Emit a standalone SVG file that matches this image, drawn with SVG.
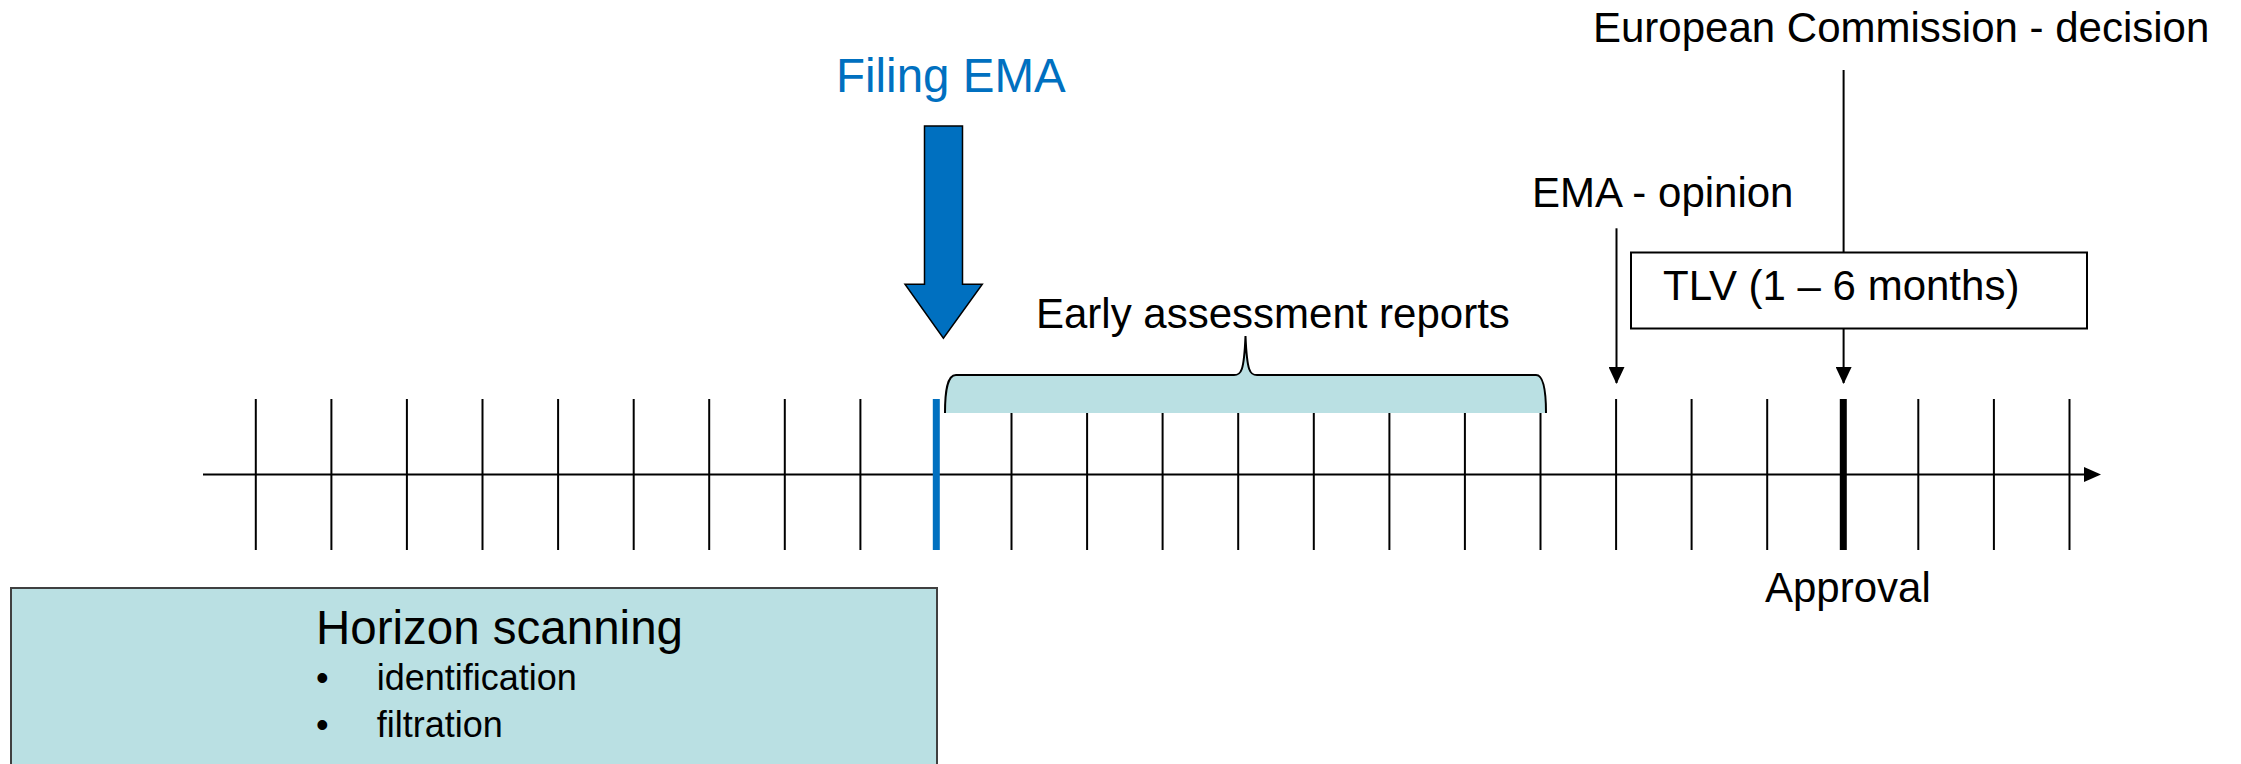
<svg xmlns="http://www.w3.org/2000/svg" width="2241" height="764" viewBox="0 0 2241 764">
<defs>
<style>
.t{font-family:"Liberation Sans",Arial,sans-serif;fill:#000}
.tick{stroke:#000;stroke-width:2}
.conn{stroke:#000;stroke-width:2;fill:none}
</style>
<marker id="ah" markerWidth="17" markerHeight="16" refX="16" refY="8" orient="auto" markerUnits="userSpaceOnUse" viewBox="0 0 17 16">
<path d="M0,0 L17,8 L0,16 Z" fill="#000"/>
</marker>
</defs>
<rect width="2241" height="764" fill="#fff"/>

<g id="timeline">
<line x1="203" y1="474.5" x2="2086" y2="474.5" stroke="#000" stroke-width="2.2"/>
<polygon points="2084,467 2101,474.5 2084,482" fill="#000"/>
<g class="tick">
<line x1="255.8" y1="399" x2="255.8" y2="550"/>
<line x1="331.4" y1="399" x2="331.4" y2="550"/>
<line x1="406.9" y1="399" x2="406.9" y2="550"/>
<line x1="482.5" y1="399" x2="482.5" y2="550"/>
<line x1="558.1" y1="399" x2="558.1" y2="550"/>
<line x1="633.7" y1="399" x2="633.7" y2="550"/>
<line x1="709.2" y1="399" x2="709.2" y2="550"/>
<line x1="784.8" y1="399" x2="784.8" y2="550"/>
<line x1="860.4" y1="399" x2="860.4" y2="550"/>
<line x1="1011.5" y1="399" x2="1011.5" y2="550"/>
<line x1="1087.1" y1="399" x2="1087.1" y2="550"/>
<line x1="1162.6" y1="399" x2="1162.6" y2="550"/>
<line x1="1238.2" y1="399" x2="1238.2" y2="550"/>
<line x1="1313.8" y1="399" x2="1313.8" y2="550"/>
<line x1="1389.4" y1="399" x2="1389.4" y2="550"/>
<line x1="1464.9" y1="399" x2="1464.9" y2="550"/>
<line x1="1540.5" y1="399" x2="1540.5" y2="550"/>
<line x1="1616.1" y1="399" x2="1616.1" y2="550"/>
<line x1="1691.6" y1="399" x2="1691.6" y2="550"/>
<line x1="1767.2" y1="399" x2="1767.2" y2="550"/>
<line x1="1918.3" y1="399" x2="1918.3" y2="550"/>
<line x1="1993.9" y1="399" x2="1993.9" y2="550"/>
<line x1="2069.5" y1="399" x2="2069.5" y2="550"/>
</g>
<line x1="936.3" y1="399" x2="936.3" y2="550" stroke="#0070C0" stroke-width="7"/>
<line x1="1843.3" y1="399" x2="1843.3" y2="550" stroke="#000" stroke-width="7"/>
</g>

<g id="early-assessment">
<path d="M945,413 C945,392 947,375 956,375 L1234,375 C1241,375 1244,372 1245.5,336 C1247,372 1250,375 1257,375 L1536,375 C1544,375 1546,392 1546,413" fill="#BAE0E3" stroke="#000" stroke-width="2"/>
<text class="t" x="1036" y="328.3" font-size="42">Early assessment reports</text>
</g>

<g id="filing-ema">
<text x="836" y="91.7" font-size="47.5" font-family="Liberation Sans, Arial, sans-serif" fill="#0070C0">Filing EMA</text>
<polygon points="924.5,126 962.5,126 962.5,284.3 982.3,284.3 943.4,338.3 905,284.3 924.5,284.3" fill="#0070C0" stroke="#000" stroke-width="1.5"/>
</g>

<g id="ema-opinion">
<text class="t" x="1532" y="206.7" font-size="42">EMA - opinion</text>
</g>

<g id="ec-decision">
<text class="t" x="1593" y="41.7" font-size="42">European Commission - decision</text>
</g>

<g id="tlv">
<rect x="1631" y="252.5" width="456" height="76" fill="#fff" stroke="#000" stroke-width="2"/>
<text class="t" x="1663" y="300" font-size="42">TLV (1 – 6 months)</text>
</g>

<g id="approval">
<text class="t" x="1765" y="601.7" font-size="42">Approval</text>
</g>

<g id="horizon-scanning">
<rect x="11" y="588" width="926" height="200" fill="#BAE0E3" stroke="#404040" stroke-width="2"/>
<text class="t" x="316" y="644.3" font-size="47.5">Horizon scanning</text>
<text class="t" x="316" y="690" font-size="36">•</text>
<text class="t" x="376.7" y="690" font-size="36">identification</text>
<text class="t" x="316" y="736.7" font-size="36">•</text>
<text class="t" x="376.7" y="736.7" font-size="36">filtration</text>
</g>

<g id="connectors">
<line class="conn" x1="1616.5" y1="228.3" x2="1616.5" y2="383" marker-end="url(#ah)"/>
<line class="conn" x1="1843.6" y1="70" x2="1843.6" y2="252.5"/>
<line class="conn" x1="1843.6" y1="328.5" x2="1843.6" y2="383" marker-end="url(#ah)"/>
</g>
</svg>
